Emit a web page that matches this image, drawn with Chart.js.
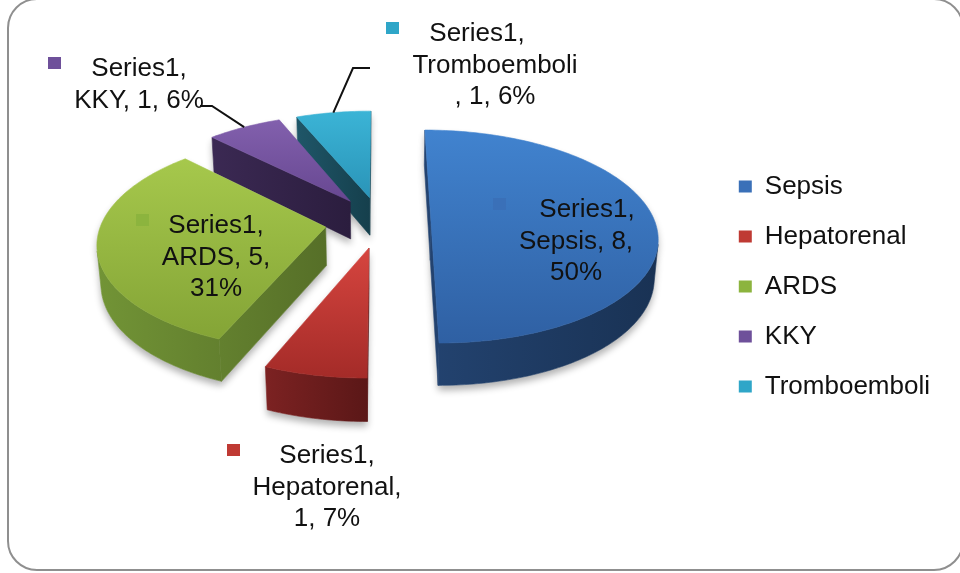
<!DOCTYPE html>
<html>
<head>
<meta charset="utf-8">
<title>Series1</title>
<script src="https://cdn.jsdelivr.net/npm/chart.js@4.4.1/dist/chart.umd.min.js"></script>
<style>
  html, body { margin: 0; padding: 0; background: #fff; }
  #wrap { position: relative; width: 960px; height: 573px; overflow: hidden; }
  #frame {
    position: absolute; left: 7px; top: -2px; width: 957px; height: 573px;
    box-sizing: border-box; border: 2.5px solid #8f8f8f; border-radius: 30px;
    pointer-events: none;
  }
</style>
</head>
<body>
<div id="wrap">
  <canvas id="chart" width="960" height="573"></canvas>
  <div id="frame"></div>
</div>
<script>
const seriesName = "Series1";
const categories = ["Sepsis", "Hepatorenal", "ARDS", "KKY", "Tromboemboli"];
const counts = [8, 1, 5, 1, 1];
const percents = ["50%", "7%", "31%", "6%", "6%"];

// colours: legend key, top face (light -> dark), side walls (light -> dark)
const legendColors = ["#3a70b8", "#bf3a33", "#8cb43e", "#6e509a", "#2fa6c8"];
const topShades = [
    ["#4183cf", "#2f60a3"],
    ["#d6453f", "#a42b28"],
    ["#a6c84c", "#84a436"],
    ["#8260ad", "#674791"],
    ["#3bb4d6", "#2a94b8"],
];
const sideShades = [
    ["#234370", "#193254"],
    ["#7c2222", "#5a1717"],
    ["#729436", "#566f28"],
    ["#3b2953", "#2b1d3e"],
    ["#1f5668", "#153f4c"],
];

// how far each slice is pulled out of the pie
const explode = [51, 55, 55, 55, 55];

// 3d view: screen centre, focal distance, tilt of the pie plane, thickness
const view = { cx: 380, cy: 222, focal: 1452, tilt: (27.8 * Math.PI) / 180, depth: 44 };

// data label boxes: centre x, first baseline, wrap width, first line nudge, optional leader line
const labelBoxes = [
    { x: 576, y: 217, wrap: 125, nudge: 11 },
    { x: 327, y: 463, wrap: 160, nudge: 0 },
    { x: 216, y: 233, wrap: 125, nudge: 0 },
    { x: 139, y: 76, wrap: 140, nudge: 0, leader: [200, 106, 212] },
    { x: 495, y: 41, wrap: 170, nudge: -18, leader: [370, 68, 353] },
];

const FONT = '"Liberation Sans", Arial, sans-serif';

function project(u, v, h) {
    const sin = Math.sin(view.tilt);
    const cos = Math.cos(view.tilt);
    const s = view.focal / (view.focal - v * cos - h * sin);
    return [view.cx + u * s, view.cy + (v * sin - h * cos) * s];
}

function buildSlice(el, i) {
    const a0 = el.startAngle;
    const a1 = el.endAngle;
    const R = el.outerRadius;
    const m = (a0 + a1) / 2;
    const ou = explode[i] * Math.cos(m);
    const ov = explode[i] * Math.sin(m);
    const H = view.depth;
    const camV = view.focal * Math.cos(view.tilt);
    const facing = (u, v, nu, nv) => -u * nu + (camV - v) * nv > 0;

    const n = Math.max(4, Math.ceil((a1 - a0) / (Math.PI / 180)));
    const rim = [];
    for (let k = 0; k <= n; k++) {
        const a = a0 + ((a1 - a0) * k) / n;
        rim.push([ou + R * Math.cos(a), ov + R * Math.sin(a)]);
    }

    const top = [project(ou, ov, 0), ...rim.map(([u, v]) => project(u, v, 0))];
    const walls = [];
    const band = (pts) => [
        ...pts.map(([u, v]) => project(u, v, 0)),
        ...pts.slice().reverse().map(([u, v]) => project(u, v, -H)),
    ];

    // cut faces along the two radii
    const apex = [ou, ov];
    const c0 = [(ou + rim[0][0]) / 2, (ov + rim[0][1]) / 2];
    if (facing(c0[0], c0[1], Math.sin(a0), -Math.cos(a0))) walls.push(band([apex, rim[0]]));
    const c1 = [(ou + rim[n][0]) / 2, (ov + rim[n][1]) / 2];
    if (facing(c1[0], c1[1], -Math.sin(a1), Math.cos(a1))) walls.push(band([apex, rim[n]]));

    // outer curved wall, only the runs that face the camera
    let run = null;
    for (let k = 0; k < n; k++) {
        const a = a0 + ((a1 - a0) * (k + 0.5)) / n;
        const pu = ou + R * Math.cos(a);
        const pv = ov + R * Math.sin(a);
        if (facing(pu, pv, Math.cos(a), Math.sin(a))) {
            if (!run) run = [rim[k]];
            run.push(rim[k + 1]);
        } else if (run) {
            walls.push(band(run));
            run = null;
        }
    }
    if (run) walls.push(band(run));

    const all = [top, ...walls].flat();
    const xs = all.map((p) => p[0]);
    const ys = top.map((p) => p[1]);
    return {
        i, ou, ov, top, walls, m, R,
        minX: Math.min(...xs), maxX: Math.max(...xs),
        minY: Math.min(...ys), maxY: Math.max(...ys),
    };
}

function fillPoly(ctx, pts, style, seam) {
    ctx.beginPath();
    pts.forEach(([x, y], k) => (k ? ctx.lineTo(x, y) : ctx.moveTo(x, y)));
    ctx.closePath();
    ctx.fillStyle = style;
    ctx.fill();
    if (seam) {
        ctx.strokeStyle = style;
        ctx.lineWidth = 0.6;
        ctx.stroke();
    }
}

function gradient(ctx, x0, y0, x1, y1, stops) {
    const g = ctx.createLinearGradient(x0, y0, x1, y1);
    g.addColorStop(0, stops[0]);
    g.addColorStop(1, stops[1]);
    return g;
}

function wrapLabel(ctx, text, maxW) {
    const lines = [];
    let line = "";
    text.split(" ").forEach((w) => {
        const test = line ? line + " " + w : w;
        if (ctx.measureText(test).width <= maxW) {
            line = test;
            return;
        }
        if (line) lines.push(line);
        if (ctx.measureText(w).width > maxW && w.endsWith(",")) {
            lines.push(w.slice(0, -1));
            line = ",";
        } else {
            line = w;
        }
    });
    if (line) lines.push(line);
    return lines;
}

function drawLabels(ctx, slices) {
    ctx.save();
    ctx.font = "26px " + FONT;
    ctx.textAlign = "center";
    ctx.textBaseline = "alphabetic";
    slices.forEach((s) => {
        const box = labelBoxes[s.i];
        const text = `${seriesName}, ${categories[s.i]}, ${counts[s.i]}, ${percents[s.i]}`;
        const lines = wrapLabel(ctx, text, box.wrap);
        const widest = Math.max(...lines.map((l) => ctx.measureText(l).width));

        ctx.fillStyle = legendColors[s.i];
        ctx.fillRect(Math.round(box.x - widest / 2 - 26), box.y - 19, 13, 12);

        ctx.fillStyle = "#111";
        lines.forEach((l, k) => ctx.fillText(l, box.x + (k === 0 ? box.nudge : 0), box.y + k * 31.5));

        if (box.leader) {
            const [lx, ly, ex] = box.leader;
            const tip = project(s.ou + s.R * Math.cos(s.m), s.ov + s.R * Math.sin(s.m), 0);
            ctx.beginPath();
            ctx.moveTo(lx, ly);
            ctx.lineTo(ex, ly);
            ctx.lineTo(tip[0], tip[1]);
            ctx.strokeStyle = "#111";
            ctx.lineWidth = 2;
            ctx.stroke();
        }
    });
    ctx.restore();
}

const pie3d = {
    id: "pie3d",
    beforeDatasetDraw() {
        return false;
    },
    afterDatasetsDraw(chart) {
        const ctx = chart.ctx;
        const arcs = chart.getDatasetMeta(0).data;
        const slices = arcs.map((el, i) => buildSlice(el, i));
        const order = slices.slice().sort((a, b) => a.ov - b.ov);

        // soft shadow under the slices
        ctx.save();
        ctx.shadowColor = "rgba(0, 0, 0, 0.3)";
        ctx.shadowBlur = 7;
        ctx.shadowOffsetY = 5;
        order.forEach((s) => [s.top, ...s.walls].forEach((p) => fillPoly(ctx, p, "#fff", false)));
        ctx.restore();

        order.forEach((s) => {
            const side = gradient(ctx, s.minX, 0, s.maxX, 0, sideShades[s.i]);
            s.walls.forEach((p) => fillPoly(ctx, p, side, true));
            fillPoly(ctx, s.top, gradient(ctx, 0, s.minY, 0, s.maxY, topShades[s.i]), true);
        });

        drawLabels(ctx, slices);
    },
};

new Chart(document.getElementById("chart"), {
    type: "pie",
    data: {
        labels: categories,
        datasets: [
            {
                label: seriesName,
                data: counts,
                backgroundColor: legendColors,
                borderWidth: 0,
                radius: 224,
                clip: false,
            },
        ],
    },
    options: {
        responsive: false,
        animation: false,
        events: [],
        layout: {
            padding: { right: 20 },
        },
        plugins: {
            tooltip: { enabled: false },
            legend: {
                position: "right",
                labels: {
                    boxWidth: 13,
                    boxHeight: 12,
                    padding: 24,
                    color: "#111",
                    font: { family: FONT, size: 26 },
                },
            },
        },
    },
    plugins: [pie3d],
});
</script>
</body>
</html>
